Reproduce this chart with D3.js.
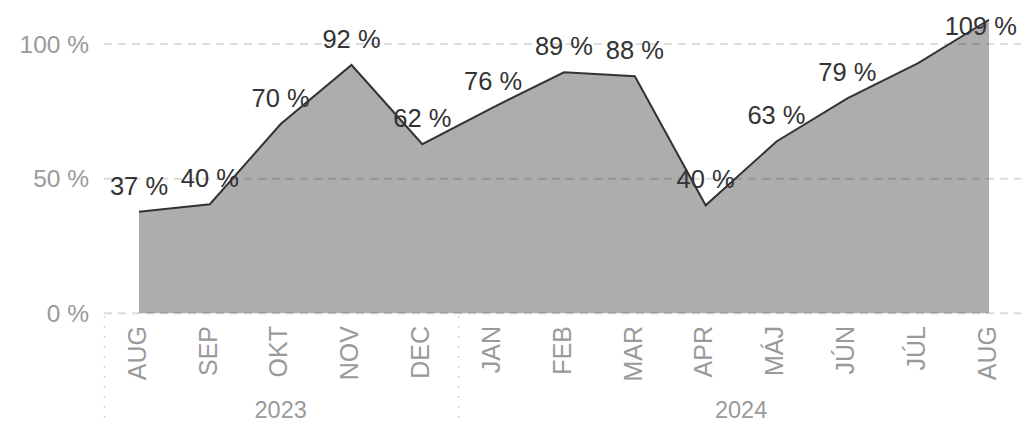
<!DOCTYPE html>
<html>
<head>
<meta charset="utf-8">
<script src="https://cdn.jsdelivr.net/npm/d3@7"></script>
<style>
  body { margin: 0; background: #fff; }
  text { font-family: "Liberation Sans", Arial, sans-serif; }
</style>
</head>
<body>
<div id="chart"></div>
<script>
// Months along the x axis (AUG appears twice, so index is used as key)
const months = ["AUG", "SEP", "OKT", "NOV", "DEC", "JAN", "FEB", "MAR", "APR", "MÁJ", "JÚN", "JÚL", "AUG"];
// Percentage values
const values = [37.7, 40.5, 70.3, 92.2, 62.8, 76.5, 89.5, 88.0, 40.1, 63.8, 79.8, 92.9, 109.0];
// Labels hidden in the original (overlap)
const hiddenLabels = [11];
// Year groups: first month index and count
const years = [
  { label: "2023", start: 0, count: 5 },
  { label: "2024", start: 5, count: 8 }
];
const yTicks = [0, 50, 100];

const width = 1021, height = 424;
const svg = d3.select("#chart").append("svg")
  .attr("width", width)
  .attr("height", height);

// Band scale over month indexes; points sit at band centres
const x = d3.scaleBand()
  .domain(d3.range(months.length))
  .range([103.6, 103.6 + 70.83 * months.length]);
const cx = i => x(i) + x.bandwidth() / 2;

const y = d3.scaleLinear()
  .domain([0, 100])
  .range([313.3, 44]);

// Horizontal dashed gridlines
svg.append("g")
  .selectAll("line")
  .data(yTicks)
  .join("line")
  .attr("x1", 104)
  .attr("x2", width)
  .attr("y1", d => y(d))
  .attr("y2", d => y(d))
  .attr("stroke", "#dcdcdc")
  .attr("stroke-width", 2)
  .attr("stroke-dasharray", "8,6");

// Y axis labels
svg.append("g")
  .selectAll("text")
  .data(yTicks)
  .join("text")
  .attr("x", 89)
  .attr("y", d => y(d))
  .attr("dy", "0.36em")
  .attr("text-anchor", "end")
  .attr("fill", "#9a9a9a")
  .style("font-size", "24.5px")
  .text(d => d + " %");

// Area (semi-transparent so gridlines show through darker)
const area = d3.area()
  .x((d, i) => cx(i))
  .y0(y(0))
  .y1(d => y(d));
svg.append("path")
  .datum(values)
  .attr("d", area)
  .attr("fill", "#000")
  .attr("fill-opacity", 0.32);

// Line on top
const line = d3.line()
  .x((d, i) => cx(i))
  .y(d => y(d));
svg.append("path")
  .datum(values)
  .attr("d", line)
  .attr("fill", "none")
  .attr("stroke", "#333")
  .attr("stroke-width", 2);

// Data labels (values truncated to whole percent), kept inside the picture
const labels = svg.append("g")
  .selectAll("text")
  .data(values.map((v, i) => ({ v, i })).filter(d => !hiddenLabels.includes(d.i)))
  .join("text")
  .attr("x", d => cx(d.i))
  .attr("y", d => Math.max(y(d.v) - 17, 35))
  .attr("text-anchor", "middle")
  .attr("fill", "#333")
  .style("font-size", "25.5px")
  .text(d => Math.floor(d.v) + " %");
labels.each(function() {
  const b = this.getBBox();
  const over = b.x + b.width - 1017;
  if (over > 0) d3.select(this).attr("x", +d3.select(this).attr("x") - over);
});

// Month labels, rotated
svg.append("g")
  .selectAll("text")
  .data(months)
  .join("text")
  .attr("transform", (d, i) => `translate(${cx(i) - 2},326) rotate(-90)`)
  .attr("dy", "0.35em")
  .attr("text-anchor", "end")
  .attr("fill", "#9a9a9a")
  .style("font-size", "25px")
  .text(d => d);

// Year separators (dotted) and year labels
svg.append("g")
  .selectAll("line")
  .data(years)
  .join("line")
  .attr("x1", d => Math.round(x(d.start)) + 0.5)
  .attr("x2", d => Math.round(x(d.start)) + 0.5)
  .attr("y1", 316)
  .attr("y2", height)
  .attr("stroke", "#c4c4c4")
  .attr("stroke-width", 1.5)
  .attr("stroke-dasharray", "1.5,8.5");

svg.append("g")
  .selectAll("text")
  .data(years)
  .join("text")
  .attr("x", d => (cx(d.start) + cx(d.start + d.count - 1)) / 2)
  .attr("y", 418)
  .attr("text-anchor", "middle")
  .attr("fill", "#9a9a9a")
  .style("font-size", "23.5px")
  .text(d => d.label);
</script>
</body>
</html>
